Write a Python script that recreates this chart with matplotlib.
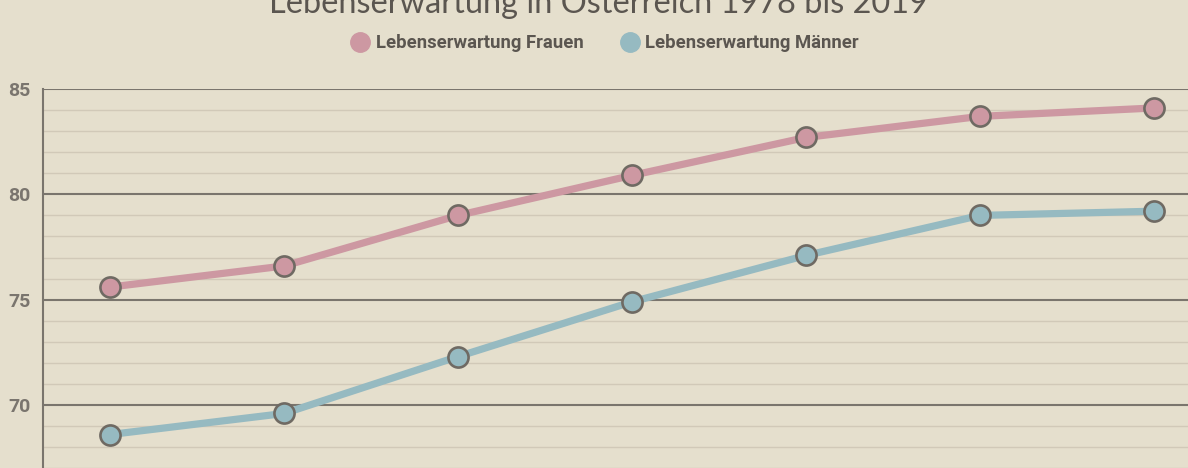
import matplotlib
matplotlib.use("Agg")
import matplotlib.pyplot as plt
from matplotlib.lines import Line2D
import numpy as np

# Daten
jahre = ["1978", "1985", "1992", "1999", "2006", "2013", "2019"]
frauen = [75.6, 76.6, 79.0, 80.9, 82.7, 83.7, 84.1]
maenner = [68.6, 69.6, 72.3, 74.9, 77.1, 79.0, 79.2]

bg = "#e5dfcd"
pink = "#cd98a2"
blau = "#96bac1"
rand = "#6f6a63"
text_col = "#5b5650"

W, H = 1188, 468
fig = plt.figure(figsize=(W / 100, H / 100), dpi=100, facecolor=bg)

# Achse ragt unten und rechts über das Bild hinaus (Ausschnitt)
px_per_unit = 21.07
y_top_px = 89
ymin, ymax = 65, 85
ax_h = (ymax - ymin) * px_per_unit
ax_bottom = (H - y_top_px) - ax_h
ax = fig.add_axes([43 / W, ax_bottom / H, 1178 / W, ax_h / H])
ax.set_facecolor(bg)

x = np.arange(len(jahre))
ax.set_xlim(-0.385, len(jahre) - 1 + 0.385)
ax.set_ylim(ymin, ymax)

# Gitternetz
for v in np.arange(ymin, ymax + 1, 1):
    if v % 5 == 0:
        ax.axhline(v, color="#7a756d", lw=1.5, zorder=1)
    else:
        ax.axhline(v, color="#d1c9b8", lw=1.0, zorder=1)

for s in ["top", "right", "bottom"]:
    ax.spines[s].set_visible(False)
ax.spines["left"].set_color("#7a756d")
ax.spines["left"].set_linewidth(1.5)

ax.set_xticks([])
ax.set_yticks([70, 75, 80, 85])
ax.tick_params(axis="y", length=0, pad=9, labelsize=14, labelcolor="#7a756e")
for lab in ax.get_yticklabels():
    lab.set_fontweight("bold")
    lab.set_fontfamily("Roboto")

kw = dict(lw=5.2, marker="o", markersize=14.5, markeredgecolor=rand,
          markeredgewidth=1.9, solid_capstyle="butt", zorder=3)
ax.plot(x, frauen, color=pink, markerfacecolor=pink, **kw)
ax.plot(x, maenner, color=blau, markerfacecolor=blau, **kw)

# Titel (oben angeschnitten)
fig.text(0.5035, (H - 13) / H, "Lebenserwartung in Österreich 1978 bis 2019",
         ha="center", va="baseline", fontsize=23.4, color=text_col,
         family="Lato")

# Legende
handles = [
    Line2D([], [], marker="o", linestyle="none", markersize=14,
           markerfacecolor=pink, markeredgecolor=pink),
    Line2D([], [], marker="o", linestyle="none", markersize=14,
           markerfacecolor=blau, markeredgecolor=blau),
]
leg = fig.legend(handles, ["Lebenserwartung Frauen", "Lebenserwartung Männer"],
                 loc="center", bbox_to_anchor=(605 / W, (H - 43) / H), ncol=2,
                 frameon=False, handletextpad=0.35, columnspacing=2.0,
                 handlelength=1.0,
                 prop={"family": "Roboto", "weight": "bold", "size": 13.3})
for t in leg.get_texts():
    t.set_color(text_col)

fig.savefig("out.png", dpi=100, facecolor=bg)
